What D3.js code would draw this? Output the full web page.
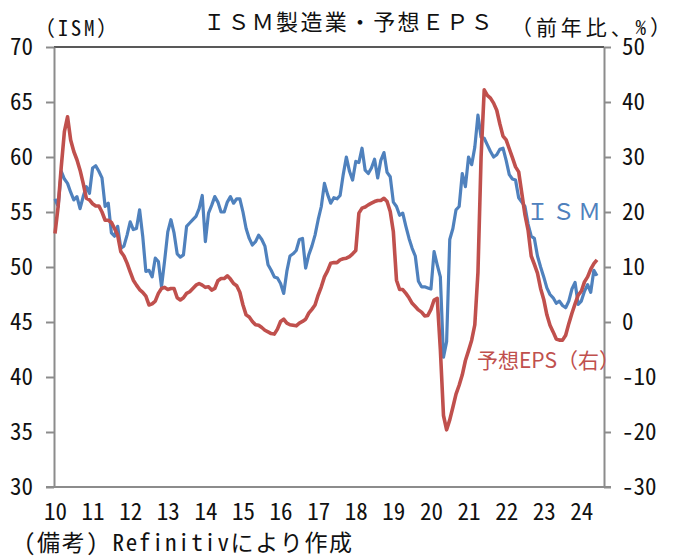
<!DOCTYPE html>
<html>
<head>
<meta charset="utf-8">
<script src="https://cdn.jsdelivr.net/npm/d3@7/dist/d3.min.js"></script>
<style>
  html, body { margin: 0; padding: 0; background: #fff; }
  svg { display: block; }
  .mono { font-family: "Noto Sans Mono CJK JP", "Noto Sans CJK JP", sans-serif; }
  .cjk { font-family: "Noto Sans CJK JP", sans-serif; }
</style>
</head>
<body>
<svg id="chart" width="674" height="560"></svg>
<script>
// ---- data (monthly, from 2010) ----
const startYear = 2010;
const yearLabels = ["10","11","12","13","14","15","16","17","18","19","20","21","22","23","24"];

// ISM manufacturing index (left axis)
const ism = [
  56.2,55.5,58.7,58.0,57.6,56.8,56.1,56.4,55.3,56.4,57.3,56.7,
  59.0,59.2,58.7,58.1,55.5,55.8,53.1,52.8,53.7,51.7,51.9,52.9,
  54.1,53.4,53.5,55.2,52.8,49.6,49.7,49.1,50.8,50.5,48.2,50.6,
  53.2,54.3,53.1,51.2,50.9,51.1,53.7,54.0,54.3,54.6,55.3,56.5,
  52.3,54.9,55.6,56.4,55.9,55.0,55.0,55.9,56.4,55.8,56.2,56.2,
  55.0,53.5,52.6,52.0,52.3,52.9,52.5,51.9,50.2,49.7,49.1,49.0,
  48.5,47.6,49.6,51.0,51.2,51.5,52.5,52.6,49.9,51.1,51.9,52.9,
  54.3,55.5,57.6,56.6,55.8,56.3,56.2,56.5,58.4,60.0,58.7,57.9,
  59.6,59.5,60.8,58.8,58.5,59.0,59.8,58.1,59.7,60.4,58.6,58.2,
  55.9,55.5,54.7,54.9,53.7,52.6,51.7,51.0,48.7,48.2,48.2,48.1,
  48.0,51.4,50.2,49.1,41.8,43.2,52.5,53.5,55.2,55.5,58.5,57.3,
  60.0,59.3,60.9,63.8,61.8,61.7,61.1,60.5,60.0,60.2,60.7,60.8,
  59.7,58.4,58.0,57.9,56.3,55.9,55.5,53.9,52.8,52.6,51.0,50.0,
  49.1,48.1,47.5,47.2,46.7,46.9,46.5,46.3,46.9,48.0,48.6,46.6,
  46.9,47.8,48.4,47.7,49.7,49.2
];

// Forward EPS, % y/y (right axis)
const eps = [
  16.1,21.0,28.2,34.6,37.3,33.1,31.0,29.5,27.6,25.2,22.5,22.2,
  21.5,21.1,21.1,20.0,18.5,18.5,18.1,17.0,15.8,12.8,12.0,10.7,
  9.1,7.6,6.7,5.9,5.4,4.7,3.1,3.3,3.8,5.2,6.1,6.3,
  5.9,6.1,6.1,4.4,4.0,4.4,5.2,5.5,6.1,6.7,7.0,6.7,
  6.3,6.4,5.8,6.1,7.5,7.9,7.9,8.4,7.8,7.0,6.6,5.4,
  3.1,1.3,0.9,0.1,-0.5,-0.6,-1.0,-1.5,-1.8,-2.1,-2.2,-1.3,
  0.1,0.5,-0.2,-0.5,-0.6,-0.7,-0.2,0.1,0.5,1.6,2.3,3.1,
  4.9,6.4,8.2,9.3,10.7,10.8,10.8,11.3,11.5,11.6,11.9,12.4,
  13.0,19.8,20.7,20.9,21.3,21.6,21.9,22.1,22.1,22.5,21.9,20.1,
  16.4,7.6,5.9,5.9,5.2,4.4,3.4,2.8,2.2,1.8,1.1,1.2,
  2.3,4.0,4.3,-5.0,-17.0,-19.6,-17.8,-15.5,-13.1,-11.5,-9.6,-7.0,
  -5.2,-3.3,-0.5,9.0,30.0,42.2,41.2,40.7,39.8,38.5,36.0,33.8,
  33.1,31.5,29.9,28.2,27.3,23.4,19.5,16.7,12.0,10.5,8.9,6.1,
  4.1,1.3,-0.6,-1.8,-3.1,-3.3,-3.3,-2.4,-0.3,1.6,3.3,4.9,
  5.6,7.3,8.2,9.6,10.6,11.3
];

const leftTicks = [30,35,40,45,50,55,60,65,70];
const rightTicks = [-30,-20,-10,0,10,20,30,40,50];

// ---- layout ----
const plot = { left: 54, right: 604, top: 47, bottom: 487 };
const svg = d3.select("#chart");
const monoFont = '"Noto Sans Mono CJK JP", "Noto Sans CJK JP", sans-serif';

const x = d3.scaleLinear().domain([0, ism.length - 1]).range([55, 597]);
const yL = d3.scaleLinear().domain([30, 70]).range([plot.bottom, plot.top]);
const yR = d3.scaleLinear().domain([-30, 50]).range([plot.bottom, plot.top]);

const axisGray = "#8c8c8c";

// top border
svg.append("line")
  .attr("x1", plot.left).attr("x2", plot.right)
  .attr("y1", plot.top).attr("y2", plot.top)
  .attr("stroke", "#222").attr("stroke-width", 1.5);

// bottom axis line
svg.append("line")
  .attr("x1", plot.left - 8).attr("x2", plot.right + 7)
  .attr("y1", plot.bottom).attr("y2", plot.bottom)
  .attr("stroke", axisGray).attr("stroke-width", 2);

// left axis
const gL = svg.append("g")
  .attr("transform", `translate(${plot.left},0)`)
  .call(d3.axisLeft(yL).tickValues(leftTicks).tickSize(8).tickSizeOuter(0).tickPadding(13));
// right axis
const gR = svg.append("g")
  .attr("transform", `translate(${plot.right},0)`)
  .call(d3.axisRight(yR).tickValues(rightTicks).tickSize(7).tickSizeOuter(0).tickPadding(11)
    .tickFormat(d => d < 0 ? "-" + Math.abs(d) : String(d)));

[gL, gR].forEach(g => {
  g.select(".domain").attr("stroke", axisGray).attr("stroke-width", 2);
  g.selectAll(".tick line").attr("stroke", axisGray).attr("stroke-width", 2);
  g.selectAll(".tick text").attr("font-size", 23).attr("fill", "#111")
    .attr("font-family", monoFont);
});

// bottom year labels
const gB = svg.append("g")
  .attr("transform", `translate(0,${plot.bottom})`)
  .call(d3.axisBottom(x)
    .tickValues(yearLabels.map((d, i) => i * 12))
    .tickFormat((d, i) => yearLabels[i])
    .tickSize(0).tickPadding(17));
gB.select(".domain").remove();
gB.selectAll(".tick text").attr("font-size", 23).attr("fill", "#111")
  .attr("font-family", monoFont);

// lines
const lineL = d3.line().x((d, i) => x(i)).y(d => yL(d));
const lineR = d3.line().x((d, i) => x(i)).y(d => yR(d));

svg.append("path").datum(ism)
  .attr("d", lineL).attr("fill", "none")
  .attr("stroke", "#4f81bd").attr("stroke-width", 3.2)
  .attr("stroke-linejoin", "round");
svg.append("path").datum(eps)
  .attr("d", lineR).attr("fill", "none")
  .attr("stroke", "#c0504d").attr("stroke-width", 3.6)
  .attr("stroke-linejoin", "round");

// texts
svg.append("text").attr("class", "cjk")
  .attr("x", 349).attr("y", 30).attr("text-anchor", "middle")
  .attr("font-size", 22).attr("letter-spacing", 2.3).attr("fill", "#111")
  .text("ＩＳＭ製造業・予想ＥＰＳ");

svg.append("text").attr("class", "mono")
  .attr("x", 34).attr("y", 36)
  .attr("font-size", 21).attr("fill", "#111")
  .attr("textLength", 84).attr("lengthAdjust", "spacing")
  .text("（ISM）");

svg.append("text").attr("class", "mono")
  .attr("x", 511).attr("y", 35)
  .attr("font-size", 21).attr("fill", "#111")
  .attr("textLength", 160).attr("lengthAdjust", "spacing")
  .text("（前年比、%）");

svg.append("text").attr("class", "cjk")
  .attr("x", 526).attr("y", 220)
  .attr("font-size", 23).attr("letter-spacing", 3).attr("fill", "#4f81bd")
  .text("ＩＳＭ");

svg.append("text").attr("class", "cjk")
  .attr("x", 477).attr("y", 368)
  .attr("font-size", 21).attr("fill", "#c0504d")
  .text("予想EPS（右）");

svg.append("text").attr("class", "mono")
  .attr("x", 24).attr("y", 551)
  .attr("font-size", 23).attr("fill", "#111")
  .attr("textLength", 328).attr("lengthAdjust", "spacing")
  .text("(備考) Refinitivにより作成");
</script>
</body>
</html>
